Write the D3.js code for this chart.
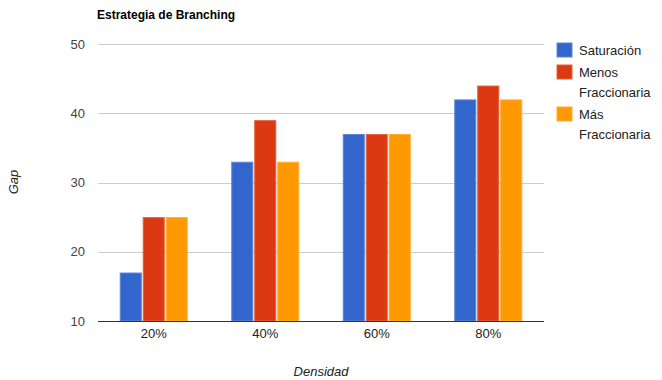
<!DOCTYPE html>
<html>
<head>
<meta charset="utf-8">
<script src="https://cdn.jsdelivr.net/npm/d3@7"></script>
<style>
  html, body { margin: 0; padding: 0; background: #fff; }
  svg { display: block; font-family: "Liberation Sans", Arial, sans-serif; }
</style>
</head>
<body>
<svg id="chart" width="662" height="380"></svg>
<script>
// Densidad categories and gap values per branching strategy
const categories = ["20%", "40%", "60%", "80%"];
const seriesNames = ["Saturación", "Menos Fraccionaria", "Más Fraccionaria"];
const saturacion = [17, 33, 37, 42];
const menosFraccionaria = [25, 39, 37, 44];
const masFraccionaria = [25, 33, 37, 42];
const yTicks = [10, 20, 30, 40, 50];
const colors = ["#3366cc", "#dc3912", "#ff9900"];
const strokes = ["#5c85d6", "#e3613f", "#ffad33"];

const series = [saturacion, menosFraccionaria, masFraccionaria];

const svg = d3.select("#chart");
const plot = { left: 98, right: 544, top: 44, bottom: 321 };

const x = d3.scaleBand().domain(categories).range([plot.left, plot.right]).paddingInner(0).paddingOuter(0);
const x1 = d3.scaleBand().domain(d3.range(series.length)).range([0, x.bandwidth()]).paddingInner(0.04).paddingOuter(0.947);
const y = d3.scaleLinear().domain([10, 50]).range([plot.bottom, plot.top]);

// Title
svg.append("text").attr("x", 97).attr("y", 19)
  .attr("font-size", 12).attr("font-weight", "bold").attr("fill", "#000")
  .text("Estrategia de Branching");

// Gridlines
svg.append("g").selectAll("line").data(yTicks.slice(1)).join("line")
  .attr("x1", plot.left).attr("x2", plot.right)
  .attr("y1", d => Math.round(y(d)) + 0.5).attr("y2", d => Math.round(y(d)) + 0.5)
  .attr("stroke", "#cccccc").attr("stroke-width", 1);

// Y axis labels
const yAxis = d3.axisLeft(y).tickValues(yTicks).tickSize(0).tickPadding(0).tickFormat(d3.format("d"));
const gy = svg.append("g").attr("transform", `translate(${plot.left - 13},0)`).call(yAxis);
gy.select(".domain").remove();
gy.selectAll("text").attr("font-size", 13).attr("fill", "#444").attr("font-family", "Liberation Sans, Arial, sans-serif");

// Bars
const groups = svg.append("g").selectAll("g").data(categories).join("g")
  .attr("transform", d => `translate(${x(d)},0)`);
groups.selectAll("rect").data((c, i) => series.map((s, k) => ({ k, v: s[i] }))).join("rect")
  .attr("x", d => x1(d.k) + 0.5)
  .attr("y", d => y(d.v) + 0.5)
  .attr("width", x1.bandwidth() - 1)
  .attr("height", d => y(10) - y(d.v) - 0.5)
  .attr("fill", d => colors[d.k])
  .attr("stroke", d => strokes[d.k]).attr("stroke-width", 1);

// Baseline
svg.append("line").attr("x1", plot.left).attr("x2", plot.right)
  .attr("y1", plot.bottom + 0.5).attr("y2", plot.bottom + 0.5)
  .attr("stroke", "#333").attr("stroke-width", 1);

// X axis labels
const xAxis = d3.axisBottom(x).tickSize(0).tickPadding(0);
const gx = svg.append("g").attr("transform", `translate(0,${plot.bottom + 8})`).call(xAxis);
gx.select(".domain").remove();
gx.selectAll("text").attr("font-size", 13).attr("fill", "#222").attr("font-family", "Liberation Sans, Arial, sans-serif");

// Axis titles
svg.append("text").attr("x", (plot.left + plot.right) / 2).attr("y", 376)
  .attr("text-anchor", "middle").attr("font-size", 13).attr("font-style", "italic").attr("fill", "#222")
  .text("Densidad");
svg.append("text").attr("transform", "translate(18,182) rotate(-90)")
  .attr("text-anchor", "middle").attr("font-size", 13).attr("font-style", "italic").attr("fill", "#222")
  .text("Gap");

// Legend
const legendLines = [["Saturación"], ["Menos", "Fraccionaria"], ["Más", "Fraccionaria"]];
const legendTops = [43, 65, 107];
const lg = svg.append("g");
legendLines.forEach((lines, k) => {
  lg.append("rect").attr("x", 557).attr("y", legendTops[k]).attr("width", 15).attr("height", 14)
    .attr("fill", colors[k]).attr("stroke", strokes[k]).attr("stroke-width", 1);
  lines.forEach((t, j) => {
    lg.append("text").attr("x", 579).attr("y", legendTops[k] + 12 + j * 20)
      .attr("font-size", 13).attr("fill", "#222").text(t);
  });
});
</script>
</body>
</html>
